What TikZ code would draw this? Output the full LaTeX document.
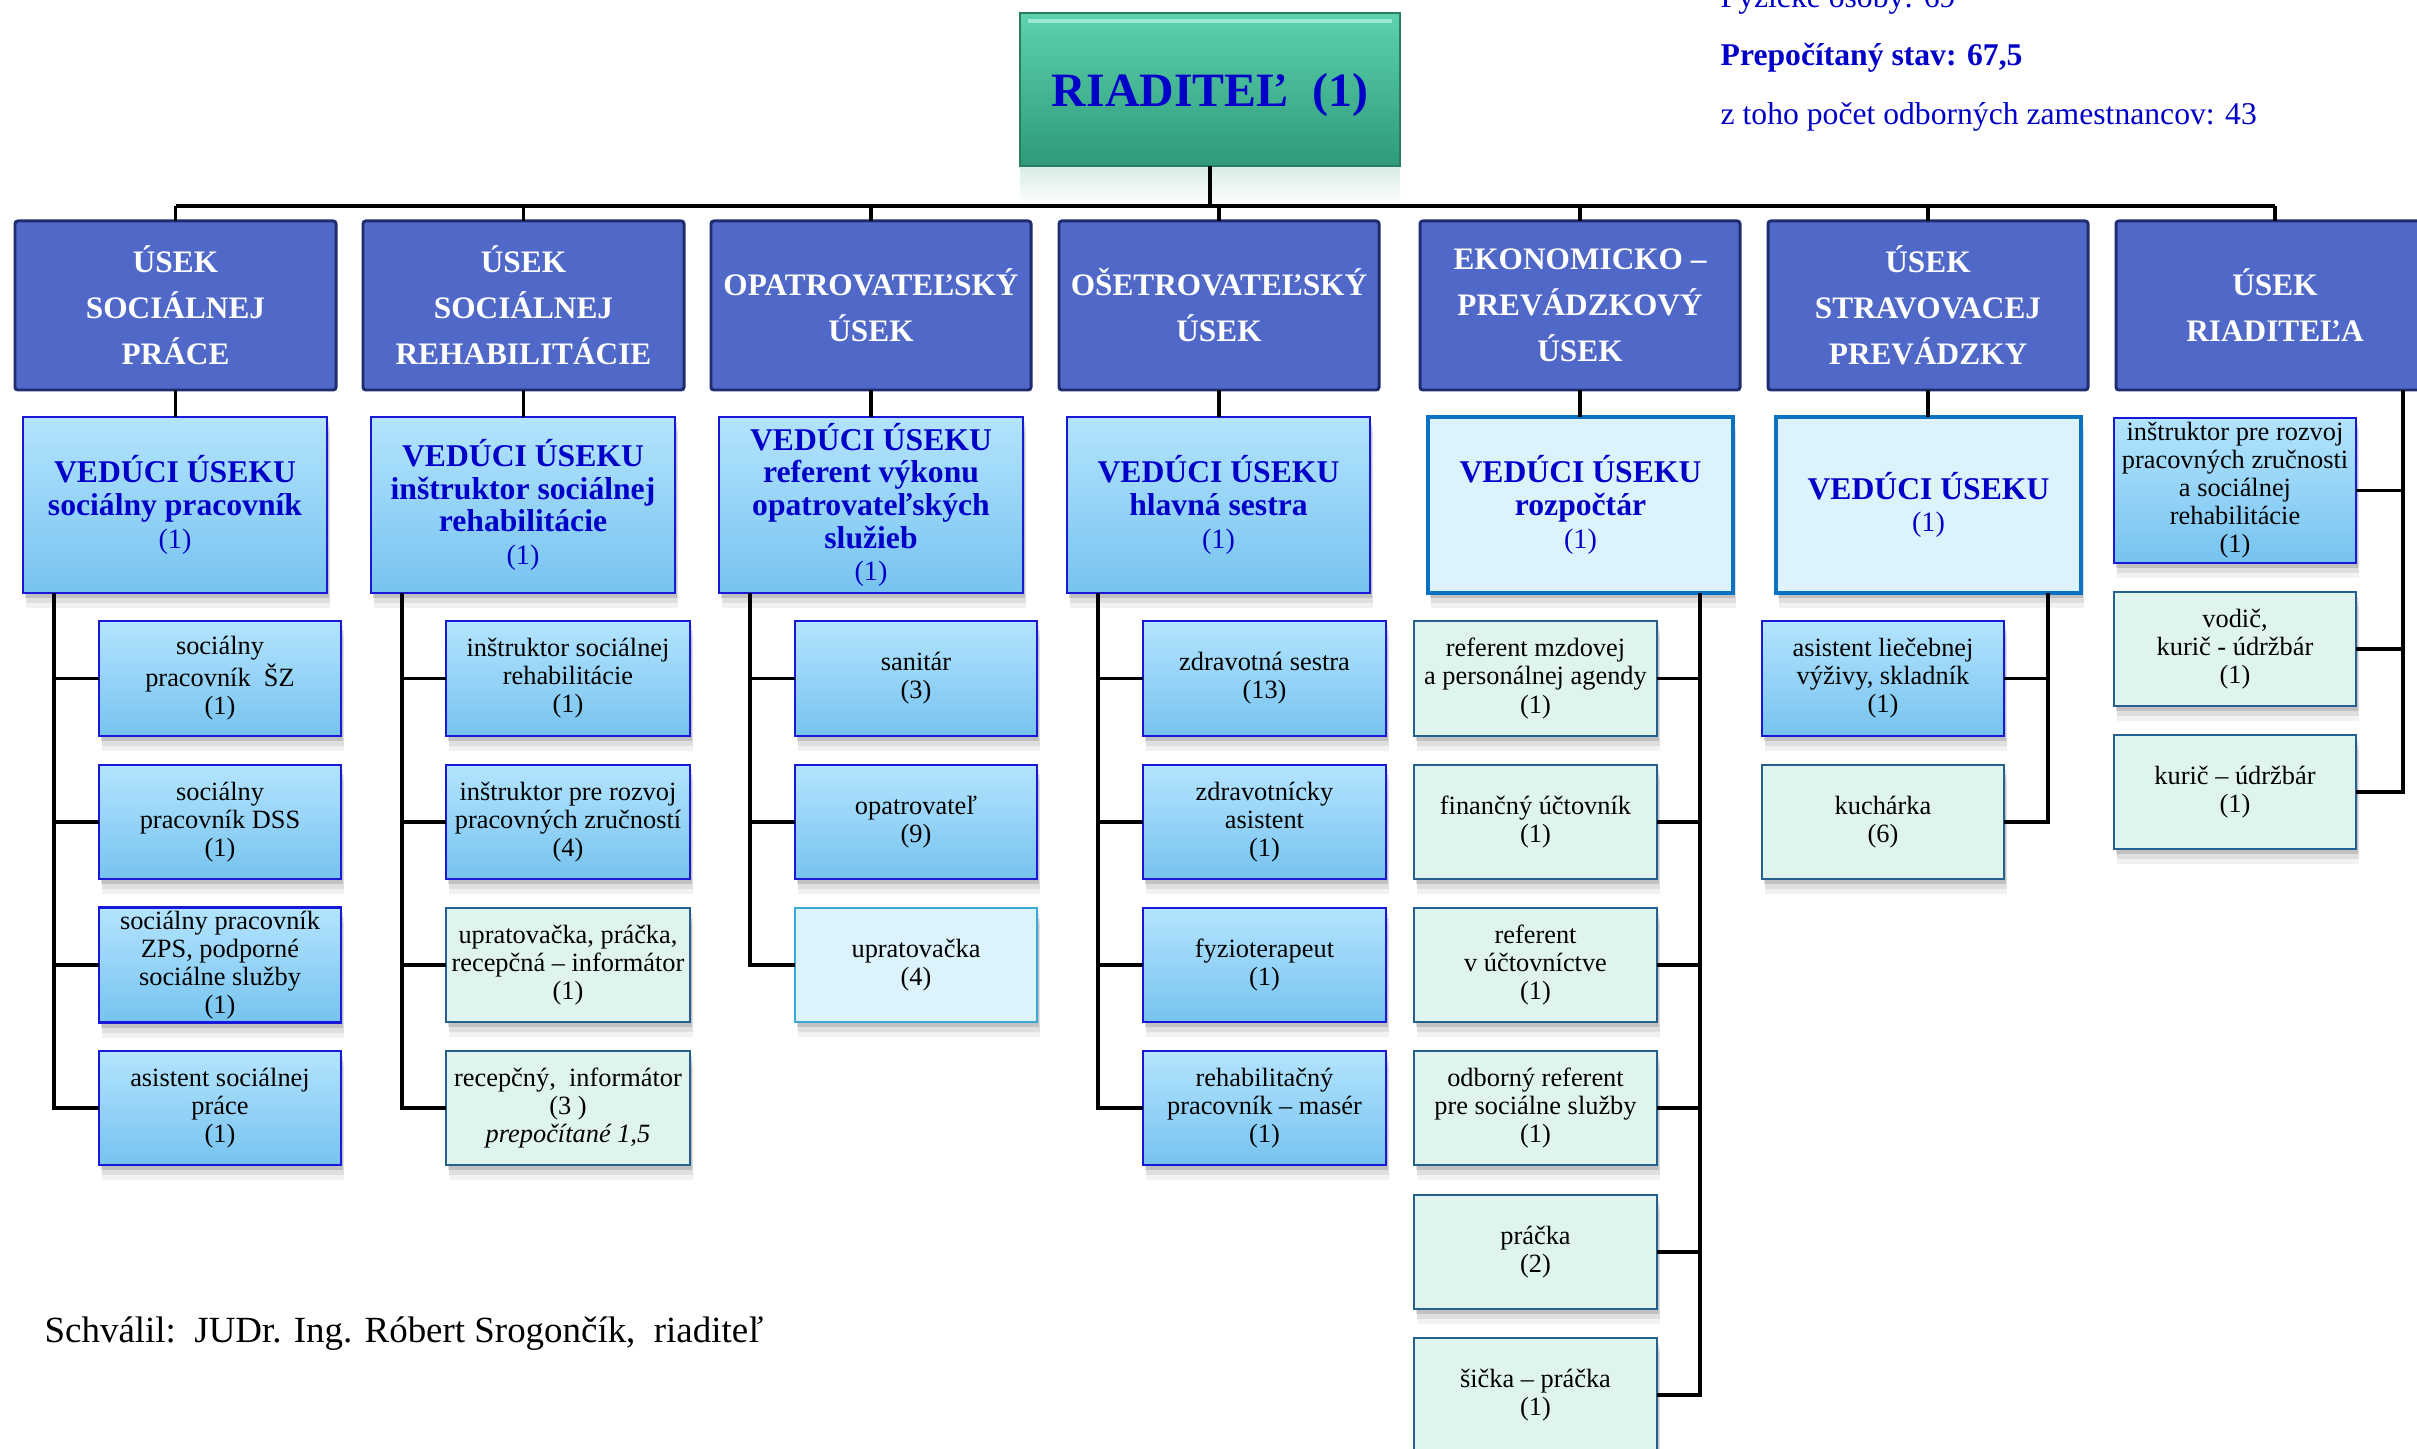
\documentclass[tikz,border=0pt]{standalone}
\usepackage{fontspec}
\setmainfont{Liberation Serif}
\usetikzlibrary{shadows}
\definecolor{divfill}{HTML}{5068C8}
\definecolor{divdraw}{HTML}{1F2D70}
\definecolor{bltop}{HTML}{B4E4FE}
\definecolor{blbot}{HTML}{76C3EF}
\definecolor{bldraw}{HTML}{1818D8}
\definecolor{ltfill}{HTML}{DDF3FC}
\definecolor{ltdraw}{HTML}{0A72C2}
\definecolor{grfill}{HTML}{E0F4EF}
\definecolor{grdraw}{HTML}{25608F}
\definecolor{cydraw}{HTML}{3AA8D8}
\definecolor{txtblue}{HTML}{0000C8}
\definecolor{rtop}{HTML}{5CD2AE}
\definecolor{rbot}{HTML}{2E9A79}
\definecolor{rdraw}{HTML}{2A7C62}
\definecolor{rhl}{HTML}{A8F2DC}
\definecolor{rrefl}{HTML}{D8EDE6}
\newcommand{\mycnt}[1]{{\mdseries\fontsize{8}{9.3}\selectfont #1}}
\newcommand{\mkbox}[7]{%
  \pgfmathsetmacro{\myw}{(#5-#3)*0.01}%
  \pgfmathsetmacro{\myh}{(#6-#4)*0.01}%
  \node[#2, minimum width=\myw cm, minimum height=\myh cm] (#1) at ({(#3+#5)/2},{(#4+#6)/2}) {#7};}
\tikzset{
  base/.style={rectangle, inner sep=1pt, outer sep=0pt, align=center},
  softshadow/.style={
    general shadow={shadow xshift=0.02cm, shadow yshift=-0.05cm, opacity=0.13, fill=black},
    general shadow={shadow xshift=0.03cm, shadow yshift=-0.10cm, opacity=0.08, fill=black},
    general shadow={shadow xshift=0.03cm, shadow yshift=-0.15cm, opacity=0.05, fill=black}},
  rootbox/.style={base, top color=rtop, bottom color=rbot, draw=rdraw, line width=0.8pt,
    text=txtblue, font=\fontsize{13.6}{15}\selectfont\bfseries},
  divbox/.style={base, fill=divfill, draw=divdraw, line width=0.85pt, rounded corners=0.8pt,
    text=white, font=\fontsize{8.9}{13.1}\selectfont\bfseries},
  headbox/.style={base, softshadow, top color=bltop, bottom color=blbot, draw=bldraw,
    line width=0.6pt, text=txtblue, font=\fontsize{9}{9.3}\selectfont\bfseries},
  headlt/.style={base, softshadow, fill=ltfill, draw=ltdraw, line width=1.1pt,
    text=txtblue, font=\fontsize{9}{9.3}\selectfont\bfseries},
  subbl/.style={base, softshadow, top color=bltop, bottom color=blbot, draw=bldraw,
    line width=0.6pt, font=\fontsize{7.5}{7.97}\selectfont},
  subgr/.style={base, softshadow, fill=grfill, draw=grdraw, line width=0.6pt,
    font=\fontsize{7.5}{7.97}\selectfont},
  subcy/.style={base, softshadow, fill=ltfill, draw=cydraw, line width=0.6pt,
    font=\fontsize{7.5}{7.97}\selectfont},
  conn/.style={draw=black, line width=1pt},
  topline/.style={anchor=base west, inner sep=0pt, text=txtblue, font=\fontsize{9}{9}\selectfont},
}
\begin{document}
\begin{tikzpicture}[x=0.01cm, y=-0.01cm]
\useasboundingbox (0,0) rectangle (2417,1449);
\fill[white] (0,0) rectangle (2417,1449);

% top-right texts
\node[topline] (t1) at (1720,8) {Fyzické osoby: 69};
\node[topline, font=\fontsize{9}{9}\selectfont\bfseries] (t2) at (1720,66) {Prepočítaný stav: 67,5};
\node[topline] (t3) at (1720,125) {z toho počet odborných zamestnancov: 43};

% root reflection
\fill[top color=rrefl, bottom color=white] (1020,168) rectangle (1400,204);
\mkbox{R}{rootbox}{1020}{13}{1400}{166}{\raisebox{-0.06cm}[\height][\depth]{RIADITEĽ\ \ (1)}}
\draw[rhl, line width=0.9pt, opacity=0.8] ([xshift=0.08cm,yshift=-0.08cm]R.north west) -- ([xshift=-0.08cm,yshift=-0.08cm]R.north east);

% division boxes
\mkbox{D1}{divbox}{15}{221}{336}{390}{ÚSEK\\SOCIÁLNEJ\\PRÁCE}
\mkbox{D2}{divbox}{363}{221}{684}{390}{ÚSEK\\SOCIÁLNEJ\\REHABILITÁCIE}
\mkbox{D3}{divbox}{711}{221}{1031}{390}{OPATROVATEĽSKÝ\\ÚSEK}
\mkbox{D4}{divbox}{1059}{221}{1379}{390}{OŠETROVATEĽSKÝ\\ÚSEK}
\mkbox{D5}{divbox}{1420}{221}{1740}{390}{EKONOMICKO –\\PREVÁDZKOVÝ\\ÚSEK}
\mkbox{D6}{divbox}{1768}{221}{2088}{390}{ÚSEK\\STRAVOVACEJ\\PREVÁDZKY}
\mkbox{D7}{divbox}{2116}{221}{2434}{390}{ÚSEK\\RIADITEĽA}

% heads
\mkbox{V1}{headbox}{23}{417}{327}{593}{VEDÚCI ÚSEKU\\sociálny pracovník\\\mycnt{(1)}}
\mkbox{V2}{headbox}{371}{417}{675}{593}{VEDÚCI ÚSEKU\\inštruktor sociálnej\\rehabilitácie\\\mycnt{(1)}}
\mkbox{V3}{headbox}{719}{417}{1023}{593}{VEDÚCI ÚSEKU\\referent výkonu\\opatrovateľských\\služieb\\\mycnt{(1)}}
\mkbox{V4}{headbox}{1067}{417}{1370}{593}{VEDÚCI ÚSEKU\\hlavná sestra\\\mycnt{(1)}}
\mkbox{V5}{headlt}{1428}{417}{1733}{593}{VEDÚCI ÚSEKU\\rozpočtár\\\mycnt{(1)}}
\mkbox{V6}{headlt}{1776}{417}{2081}{593}{VEDÚCI ÚSEKU\\\mycnt{(1)}}

% column 1
\mkbox{S11}{subbl}{99}{621}{341}{736}{sociálny\\pracovník\ \ ŠZ\\(1)}
\mkbox{S12}{subbl}{99}{765}{341}{879}{sociálny\\pracovník DSS\\(1)}
\mkbox{S13}{subbl}{99}{908}{341}{1022}{sociálny pracovník\\ZPS, podporné\\sociálne služby\\(1)}
\mkbox{S14}{subbl}{99}{1051}{341}{1165}{asistent sociálnej\\práce\\(1)}
% column 2
\mkbox{S21}{subbl}{446}{621}{690}{736}{inštruktor sociálnej\\rehabilitácie\\(1)}
\mkbox{S22}{subbl}{446}{765}{690}{879}{inštruktor pre rozvoj\\pracovných zručností\\(4)}
\mkbox{S23}{subgr}{446}{908}{690}{1022}{upratovačka, práčka,\\recepčná – informátor\\(1)}
\mkbox{S24}{subgr}{446}{1051}{690}{1165}{recepčný,\ \ informátor\\(3 )\\\textit{prepočítané 1,5}}
% column 3
\mkbox{S31}{subbl}{795}{621}{1037}{736}{sanitár\\(3)}
\mkbox{S32}{subbl}{795}{765}{1037}{879}{opatrovateľ\\(9)}
\mkbox{S33}{subcy}{795}{908}{1037}{1022}{upratovačka\\(4)}
% column 4
\mkbox{S41}{subbl}{1143}{621}{1386}{736}{zdravotná sestra\\(13)}
\mkbox{S42}{subbl}{1143}{765}{1386}{879}{zdravotnícky\\asistent\\(1)}
\mkbox{S43}{subbl}{1143}{908}{1386}{1022}{fyzioterapeut\\(1)}
\mkbox{S44}{subbl}{1143}{1051}{1386}{1165}{rehabilitačný\\pracovník – masér\\(1)}
% column 5
\mkbox{S51}{subgr}{1414}{621}{1657}{736}{referent mzdovej\\a personálnej agendy\\(1)}
\mkbox{S52}{subgr}{1414}{765}{1657}{879}{finančný účtovník\\(1)}
\mkbox{S53}{subgr}{1414}{908}{1657}{1022}{referent\\v účtovníctve\\(1)}
\mkbox{S54}{subgr}{1414}{1051}{1657}{1165}{odborný referent\\pre sociálne služby\\(1)}
\mkbox{S55}{subgr}{1414}{1195}{1657}{1309}{práčka\\(2)}
\mkbox{S56}{subgr}{1414}{1338}{1657}{1452}{šička – práčka\\(1)}
% column 6
\mkbox{S61}{subbl}{1762}{621}{2004}{736}{asistent liečebnej\\výživy, skladník\\(1)}
\mkbox{S62}{subgr}{1762}{765}{2004}{879}{kuchárka\\(6)}
% column 7
\mkbox{S71}{subbl}{2114}{418}{2356}{563}{inštruktor pre rozvoj\\pracovných zručnosti\\a sociálnej\\rehabilitácie\\(1)}
\mkbox{S72}{subgr}{2114}{592}{2356}{706}{vodič,\\kurič - údržbár\\(1)}
\mkbox{S73}{subgr}{2114}{735}{2356}{849}{kurič – údržbár\\(1)}

% root to bus
\coordinate (bus) at (1210,206);
\draw[conn] (R.south) -- (bus);
\draw[conn, line width=0.9pt] (D1.north |- bus) -- (D7.north |- bus);
\foreach \d in {D1,D2,D3,D4,D5,D6,D7} \draw[conn] (\d.north |- bus) -- (\d.north);
% division to heads
\foreach \d/\v in {D1/V1,D2/V2,D3/V3,D4/V4,D5/V5,D6/V6} \draw[conn] (\d.south) -- (\d.south |- \v.north);

% trunks
\coordinate (T1) at (54,593);
\coordinate (T2) at (402,593);
\coordinate (T3) at (750,593);
\coordinate (T4) at (1098,593);
\coordinate (T5) at (1700,593);
\coordinate (T6) at (2048,593);
\coordinate (T7) at (2403,390);

\draw[conn] (T1) |- (S14.west);
\foreach \s in {S11,S12,S13} \draw[conn] (T1 |- \s.west) -- (\s.west);
\draw[conn] (T2) |- (S24.west);
\foreach \s in {S21,S22,S23} \draw[conn] (T2 |- \s.west) -- (\s.west);
\draw[conn] (T3) |- (S33.west);
\foreach \s in {S31,S32} \draw[conn] (T3 |- \s.west) -- (\s.west);
\draw[conn] (T4) |- (S44.west);
\foreach \s in {S41,S42,S43} \draw[conn] (T4 |- \s.west) -- (\s.west);
\draw[conn] (T5) |- (S56.east);
\foreach \s in {S51,S52,S53,S54,S55} \draw[conn] (T5 |- \s.east) -- (\s.east);
\draw[conn] (T6) |- (S62.east);
\draw[conn] (T6 |- S61.east) -- (S61.east);
\draw[conn] (T7) |- (S73.east);
\foreach \s in {S71,S72} \draw[conn] (T7 |- \s.east) -- (\s.east);

% approval
\node[anchor=base west, inner sep=0pt, font=\fontsize{10.5}{12}\selectfont] (appr) at (44,1342) {Schválil:\ \ JUDr. Ing. Róbert Srogončík,\ \ riaditeľ};
\end{tikzpicture}
\end{document}
